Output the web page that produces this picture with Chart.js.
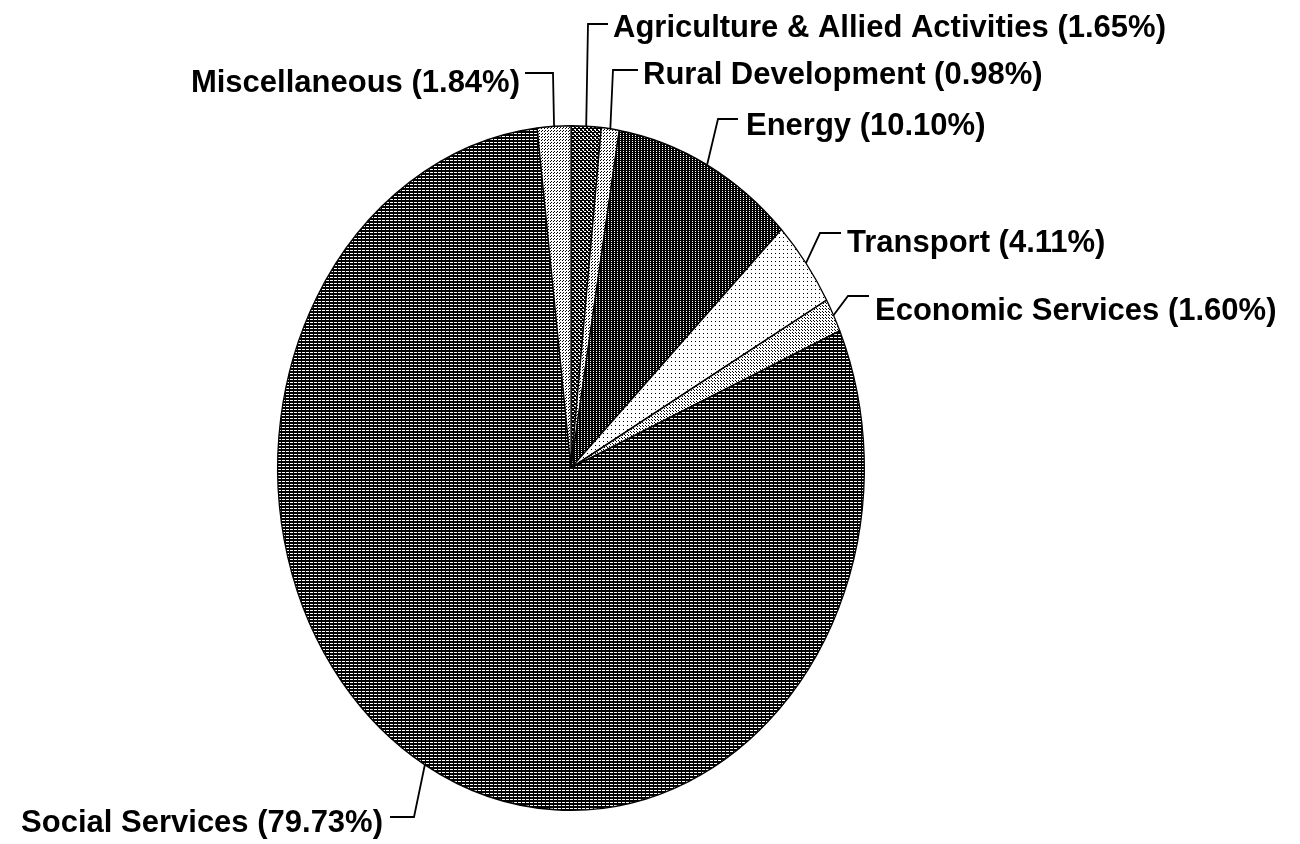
<!DOCTYPE html>
<html><head><meta charset="utf-8">
<script src="https://cdn.jsdelivr.net/npm/chart.js@4.4.1/dist/chart.umd.min.js"></script>
<style>html,body{margin:0;padding:0;background:#fff;overflow:hidden}canvas{display:block}</style>
</head><body>
<canvas id="c" width="1300" height="844"></canvas>
<script>
const categories = ["Agriculture & Allied Activities", "Rural Development", "Energy", "Transport", "Economic Services", "Social Services", "Miscellaneous"];
const shares = [1.65, 0.98, 10.10, 4.11, 1.60, 79.73, 1.84];

// label placement (elbow of leader line, end of horizontal stub, text anchor)
const labelLayout = [
  {elbow: [588, 24],  lineEnd: 608, textX: 613, baseY: 37,  align: 'left'},
  {elbow: [613, 70],  lineEnd: 638, textX: 643, baseY: 84,  align: 'left'},
  {elbow: [718, 119], lineEnd: 738, textX: 746, baseY: 135, align: 'left'},
  {elbow: [820, 233], lineEnd: 841, textX: 847, baseY: 252, align: 'left'},
  {elbow: [848, 296], lineEnd: 869, textX: 875, baseY: 320, align: 'left'},
  {elbow: [414, 817], lineEnd: 390, textX: 383, baseY: 832, align: 'right'},
  {elbow: [553, 73],  lineEnd: 525, textX: 520, baseY: 92,  align: 'right'}
];

const xScale = 294 / 343; // pie is drawn as a tall ellipse

const canvas = document.getElementById('c');
const mainCtx = canvas.getContext('2d');
function pat(w, h, bg, fg, pts) {
  const c = document.createElement('canvas');
  c.width = w; c.height = h;
  const g = c.getContext('2d');
  g.fillStyle = bg; g.fillRect(0, 0, w, h);
  g.fillStyle = fg;
  pts.forEach(p => g.fillRect(p[0], p[1], p[2] || 1, p[3] || 1));
  const p = mainCtx.createPattern(c, 'repeat');
  try { p.setTransform(new DOMMatrix().scale(1 / xScale, 1)); } catch (e) {}
  return p;
}
const fills = [
  pat(4, 4, '#000', '#fff', [[0, 1, 2, 1], [2, 3, 2, 1], [1, 2]]),  // Agriculture
  pat(3, 3, '#fff', '#000', [[0, 0], [2, 1]]),                      // Rural
  pat(3, 4, '#000', '#fff', [[1, 1], [1, 3]]),                      // Energy
  pat(4, 4, '#fff', '#000', [[1, 1]]),                              // Transport
  pat(3, 3, '#fff', '#000', [[0, 0], [2, 2]]),                      // Economic
  pat(4, 3, '#000', '#fff', [[0, 1, 3, 1]]),                        // Social
  pat(3, 3, '#fff', '#000', [[1, 1], [0, 2]])                       // Misc
];

const ellipsePlugin = {
  id: 'ellipse',
  beforeDatasetsDraw(chart) {
    const a = chart.getDatasetMeta(0).data[0];
    const ctx = chart.ctx;
    ctx.save();
    ctx.imageSmoothingEnabled = false;
    ctx.translate(a.x, a.y);
    ctx.scale(xScale, 1);
    ctx.translate(-a.x, -a.y);
  },
  afterDatasetsDraw(chart) { chart.ctx.restore(); },
  afterDraw(chart) {
    const ctx = chart.ctx;
    const meta = chart.getDatasetMeta(0);
    ctx.save();
    ctx.strokeStyle = '#000';
    ctx.lineWidth = 1.8;
    ctx.fillStyle = '#000';
    ctx.font = 'bold 31px "Liberation Sans", Arial, sans-serif';
    ctx.textBaseline = 'alphabetic';
    meta.data.forEach((arc, i) => {
      const L = labelLayout[i];
      const m = (arc.startAngle + arc.endAngle) / 2;
      const ax = arc.x + xScale * arc.outerRadius * Math.cos(m);
      const ay = arc.y + arc.outerRadius * Math.sin(m);
      ctx.beginPath();
      ctx.moveTo(ax, ay);
      ctx.lineTo(L.elbow[0], L.elbow[1]);
      ctx.lineTo(L.lineEnd, L.elbow[1]);
      ctx.stroke();
      ctx.textAlign = L.align;
      ctx.fillText(categories[i] + ' (' + shares[i].toFixed(2) + '%)', L.textX, L.baseY);
    });
    ctx.restore();
  }
};

new Chart(canvas, {
  type: 'pie',
  data: {
    labels: categories,
    datasets: [{
      data: shares,
      backgroundColor: fills,
      borderColor: '#000',
      borderWidth: 1.5
    }]
  },
  options: {
    responsive: false,
    devicePixelRatio: 1,
    animation: false,
    events: [],
    layout: {padding: {top: 125, bottom: 33, left: 228, right: 386}},
    plugins: {legend: {display: false}, tooltip: {enabled: false}}
  },
  plugins: [ellipsePlugin]
});
</script>
</body></html>
